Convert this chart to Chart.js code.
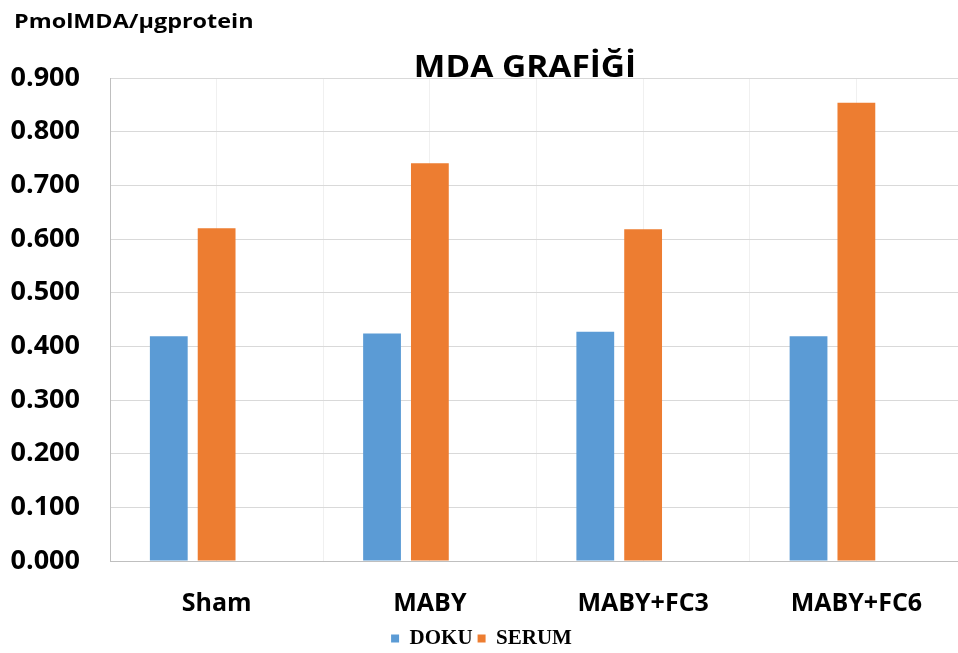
<!DOCTYPE html>
<html>
<head>
<meta charset="utf-8">
<script src="https://cdn.jsdelivr.net/npm/chart.js@4.4.0/dist/chart.umd.min.js"></script>
<style>
    html, body { margin: 0; padding: 0; background: #fff; overflow: hidden; }
    #wrap { width: 966px; height: 659px; position: relative; }
</style>
</head>
<body>
<div id="wrap"><canvas id="mdaChart"></canvas></div>
<script>
const groups = ['Sham', 'MABY', 'MABY+FC3', 'MABY+FC6'];
const dokuValues = [0.419, 0.424, 0.427, 0.419];
const serumValues = [0.620, 0.741, 0.618, 0.854];
const emptyValues = [null, null, null, null];
const yTicks = [0, 0.1, 0.2, 0.3, 0.4, 0.5, 0.6, 0.7, 0.8, 0.9];

const chartTitle = 'MDA GRAFİĞİ';
const unitLabel = 'PmolMDA/μgprotein';

// title and unit text sit over the plot like in the excel picture
const overlayText = {
    id: 'overlayText',
    afterDraw(chart) {
        const ctx = chart.ctx;
        ctx.save();
        ctx.fillStyle = '#000';
        ctx.textBaseline = 'alphabetic';
        ctx.font = 'bold 20px "Open Sans"';
        ctx.textAlign = 'left';
        ctx.save();
        ctx.translate(14, 28);
        ctx.scale(1.17, 1);
        ctx.fillText(unitLabel, 0, 0);
        ctx.restore();
        ctx.font = 'bold 31px "Open Sans"';
        ctx.textAlign = 'center';
        ctx.translate(525, 77);
        ctx.scale(1.08, 1);
        ctx.fillText(chartTitle, 0, 0);
        ctx.restore();
    }
};

new Chart(document.getElementById('mdaChart').getContext('2d'), {
    type: 'bar',
    data: {
        labels: groups,
        datasets: [
            { label: 'DOKU', data: dokuValues, backgroundColor: '#5B9BD5' },
            { label: 'SERUM', data: serumValues, backgroundColor: '#ED7D31' },
            { label: '', data: emptyValues, backgroundColor: 'rgba(0,0,0,0)' }
        ]
    },
    options: {
        responsive: true,
        maintainAspectRatio: false,
        animation: false,
        categoryPercentage: 0.673,
        barPercentage: 0.79,
        layout: { padding: { top: 78, left: 0, right: 3, bottom: 0 } },
        scales: {
            x: {
                offset: true,
                grid: { offset: true, color: '#f0f0f0', drawTicks: false },
                border: { color: '#bfbfbf' },
                ticks: { color: '#000', font: { family: 'Open Sans', weight: 'bold', size: 25 }, padding: 28 },
                afterFit(scale) { scale.height = 62; }
            },
            x2: {
                type: 'category',
                labels: groups,
                offset: true,
                position: 'bottom',
                display: true,
                grid: { offset: false, color: '#f0f0f0', drawTicks: false },
                border: { display: false },
                ticks: { display: false },
                afterFit(scale) { scale.height = 0; }
            },
            y: {
                min: 0,
                max: 0.9,
                afterBuildTicks(scale) { scale.ticks = yTicks.map(v => ({ value: v })); },
                grid: { color: '#d9d9d9', drawTicks: false },
                border: { color: '#bfbfbf' },
                ticks: {
                    color: '#000',
                    padding: 30,
                    font: { family: 'Open Sans', weight: 'bold', size: 27 },
                    callback: v => v.toFixed(3)
                },
                afterFit(scale) { scale.width = 110; }
            }
        },
        plugins: {
            legend: {
                position: 'bottom',
                labels: {
                    boxWidth: 8,
                    boxHeight: 8,
                    color: '#000',
                    font: { family: 'Liberation Serif', weight: 'bold', size: 21 },
                    padding: 5,
                    filter: item => item.text !== ''
                }
            },
            tooltip: { enabled: false }
        }
    },
    plugins: [overlayText]
});
</script>
</body>
</html>
